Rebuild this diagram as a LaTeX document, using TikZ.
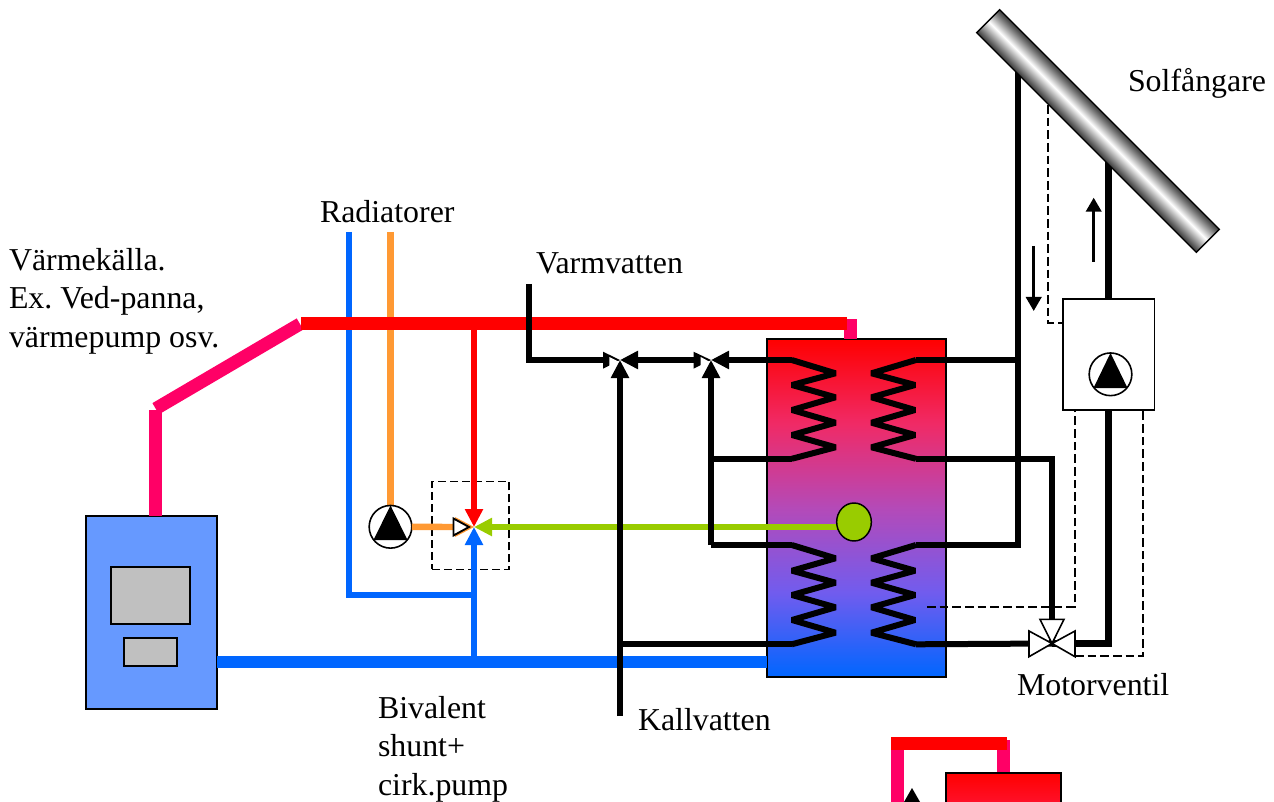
\documentclass[tikz,border=0pt]{standalone}
\usepackage{fontspec}
\setmainfont{Liberation Serif}
\usetikzlibrary{arrows.meta,shapes.geometric}
\definecolor{hotred}{HTML}{FF0000}
\definecolor{hotpink}{HTML}{FF0066}
\definecolor{coldblue}{HTML}{0066FF}
\definecolor{warmorange}{HTML}{FF9933}
\definecolor{mixgreen}{HTML}{99CC00}
\definecolor{boilerblue}{HTML}{6699FF}
\definecolor{panelgrey}{HTML}{C0C0C0}
\definecolor{tankA}{HTML}{F02A66}
\definecolor{tankB}{HTML}{B44AB8}
\definecolor{tankC}{HTML}{715CEE}
\definecolor{tankTop}{HTML}{FF1028}
\pgfdeclareverticalshading{tankshade}{100bp}{
  color(0bp)=(coldblue); color(25bp)=(coldblue);
  color(37.5bp)=(tankC);
  color(50bp)=(tankB);
  color(62.5bp)=(tankA);
  color(75bp)=(hotred); color(100bp)=(hotred)}
\pgfdeclareverticalshading{smalltankshade}{100bp}{
  color(0bp)=(tankTop); color(25bp)=(tankTop);
  color(75bp)=(hotred); color(100bp)=(hotred)}
\tikzset{
  pipethick/.style={line width=9.75pt},
  pipeblack/.style={black,line width=4.5pt,line join=miter},
  coil/.style={black,line width=4.5pt,line join=bevel},
  pipeheavy/.style={black,line width=5.25pt,line join=miter},
  pipethin/.style={line width=4.5pt},
  headtip/.style={-{Triangle[length=13.5pt,width=13pt]}},
  smalltip/.style={-{Triangle[length=10.5pt,width=11.5pt]}},
  thindash/.style={black,line width=1.25pt,dash pattern=on 6.5pt off 3pt},
  box/.style={draw=black,line width=1.1pt,inner sep=0pt,outer sep=0pt},
  pump/.style={circle,draw=black,fill=white,line width=1.2pt,minimum size=32pt,inner sep=0pt,outer sep=0pt},
  lbl/.style={font=\fontsize{23.9}{28.9}\selectfont\frenchspacing,inner sep=0pt,outer sep=0pt,align=left},
  openhead/.style={fill=white,draw=black,line width=1.4pt,line join=miter},
  valvehead/.style={fill=white,draw=black,line width=1.2pt,line join=miter},
}
\begin{document}
\begin{tikzpicture}[x=0.75pt,y=-0.75pt]
\useasboundingbox (0,0) rectangle (1274,802);
% --- anchors
\coordinate (mixv) at (474,527);
\coordinate (v1) at (620,360);
\coordinate (v2) at (711,360);
\coordinate (mv) at (1052,643.5);
\coordinate (redL) at (301,323);
\coordinate (redR) at (847,323);
\coordinate (redT) at (474,323);
\coordinate (bluejoin) at (474,662);
\coordinate (blueret) at (474,595);
\coordinate (rad1) at (349,232);
\coordinate (rad1b) at (349,595);
\coordinate (rad2) at (390.5,232);
\coordinate (rad2b) at (390.5,505);
\coordinate (vv) at (529,284);
\coordinate (vvb) at (529,360);
\coordinate (kv) at (620,716);
\coordinate (kvj) at (620,644.3);
\coordinate (j1) at (711,458.8);
\coordinate (j2) at (711,545);
\coordinate (lt1) at (791.7,360);
\coordinate (lt2) at (791.7,458.8);
\coordinate (lb1) at (791.7,545);
\coordinate (lb2) at (791.7,644.3);
\coordinate (rt1) at (916,360);
\coordinate (rt2) at (916,458.8);
\coordinate (rb1) at (916,545);
\coordinate (rb2) at (916,644.3);
\coordinate (c1t) at (1018,70);
\coordinate (c1m) at (1018,360);
\coordinate (c1b) at (1018,545);
\coordinate (mvp) at (1052,458.8);
\coordinate (mvR) at (1108.3,643.5);
\coordinate (c2t) at (1108.3,160);
\coordinate (stubT) at (850.5,319);
\coordinate (stubB) at (850.5,339);
\coordinate (boilT) at (155,516);
\coordinate (kinkA) at (155,410);
\coordinate (kinkB) at (155.7,408.7);
\coordinate (diagE) at (300,324);
\coordinate (blueL) at (217,662);
\coordinate (blueR) at (767,662);
% --- tank, boiler
\node[box,name=tank,minimum width=134.25pt,minimum height=253.5pt,shading=tankshade] at (856.5,508) {};
\draw[pipethick,hotpink] (stubT) -- (stubB);
\node[box,name=boiler,minimum width=98.25pt,minimum height=144.75pt,fill=boilerblue] at (151.5,612.5) {};
\node[box,name=panelA,minimum width=59.25pt,minimum height=42.75pt,fill=panelgrey] at (150.5,595.5) {};
\node[box,name=panelB,minimum width=39.75pt,minimum height=21pt,fill=panelgrey] at (150.5,652) {};
% --- heating pipes
\draw[pipethick,hotpink] (boilT) -- (kinkA);
\draw[pipethick,hotpink] (kinkB) -- (diagE);
\draw[coldblue,line width=4.8pt,line join=miter] (rad1) -- (rad1b) -- (blueret);
\draw[warmorange,line width=5.2pt] (rad2) -- (rad2b);
\draw[pipethick,hotred] (redL) -- (redR);
\draw[coldblue,line width=8.5pt] (blueL) -- (blueR);
% --- shunt
\node[box,name=shunt,dash pattern=on 6pt off 3pt,minimum width=57.75pt,minimum height=65.7pt] at (470.5,525.5) {};
\node[pump,name=pumpA] at (390.5,526.8) {};
\fill[black] (pumpA.north) -- (373.5,540) -- (407.5,540) -- cycle;
\coordinate (oa) at (453,527);
\draw[warmorange,line width=4.8pt] (pumpA.east) -- (oa);
\fill[warmorange] (455,517) -- (mixv) -- (455,537) -- cycle;
\draw[hotred,pipethin,headtip] (redT) -- (mixv);
\draw[coldblue,pipethin,headtip] (bluejoin) -- (mixv);
\coordinate (gs) at (854,527);
\draw[mixgreen,line width=4.8pt,headtip] (gs) -- (mixv);
\node[name=sensor,draw=black,line width=1.1pt,fill=mixgreen,ellipse,minimum width=26pt,minimum height=28.5pt,inner sep=0pt,outer sep=0pt] at (854,522) {};
\draw[openhead] (453.5,518.5) -- (469,527) -- (453.5,535.5) -- cycle;
% --- hot/cold water
\coordinate (v1L) at (603,360);
\coordinate (v2L) at (693.5,360);
\draw[pipeblack] (vv) -- (vvb) -- (v1L);
\draw[pipeblack,headtip] (v2L) -- (v1);
\draw[pipeblack,headtip] (kv) -- (v1);
\draw[pipeblack,headtip] (lt1) -- (v2);
\draw[pipeblack,headtip] (j2) -- (v2);
\fill[black] (603,351.7) -- (v1) -- (603,368.7) -- cycle;
\fill[black] (693.5,351.7) -- (v2) -- (693.5,368.7) -- cycle;
\fill[white] (609.3,357) -- (618.5,361.5) -- (609.3,367) -- cycle;
\fill[white] (700.7,357) -- (709,361.5) -- (700.7,367) -- cycle;
\draw[pipeblack] (j1) -- (lt2);
\draw[pipeblack] (j2) -- (lb1);
\draw[pipeblack] (kvj) -- (lb2);
% --- coils
\draw[coil] (lt1) -- (835.5,373.3) -- (792,385) -- (835.5,397.3) -- (792,410) -- (835.5,422.7) -- (792,435) -- (835.5,447.3) -- (lt2);
\draw[coil] (rt1) -- (871.5,373.3) -- (915,385) -- (871.5,397.3) -- (915,410) -- (871.5,422.7) -- (915,435) -- (871.5,447.3) -- (rt2);
\draw[coil] (lb1) -- (835.5,558.3) -- (792,570.7) -- (835.5,582.7) -- (792,595) -- (835.5,607.3) -- (792,620) -- (835.5,632.7) -- (lb2);
\draw[coil] (rb1) -- (871.5,558.3) -- (915,570.7) -- (871.5,582.7) -- (915,595) -- (871.5,607.3) -- (915,620) -- (871.5,632.7) -- (rb2);
% --- solar circuit
\draw[pipeblack] (c1t) -- (c1b) -- (rb1);
\draw[pipeblack] (rt1) -- (c1m);
\draw[pipeblack] (rt2) -- (mvp) -- (mv);
\draw[pipeblack] (rb2) -- (mv);
\draw[pipeheavy] (mv) -- (mvR) -- (c2t);
\node[box,name=solbox,fill=white,minimum width=68.75pt,minimum height=83.25pt] at (1108.8,354.5) {};
\node[pump,name=pumpB] at (1110.5,374.3) {};
\fill[black] (pumpB.north) -- (1093.5,388) -- (1127.5,388) -- cycle;
% --- motor valve
\draw[valvehead] (1040,619.3) -- (1064,619.3) -- (mv) -- cycle;
\draw[valvehead] (1029,631) -- (1029,656.7) -- (mv) -- cycle;
\draw[valvehead] (1075,631) -- (1075,656.7) -- (mv) -- cycle;
\draw[thindash] (1075,656) -- (1143,656) -- (1143,410);
\draw[thindash] (927,606.7) -- (1074.7,606.7) -- (1074.7,410);
\draw[thindash] (1048.3,105) -- (1048.3,323.3) -- (1063,323.3);
\draw[black,line width=2.2pt,smalltip] (1093.7,262) -- (1093.7,197.7);
\draw[black,line width=2.2pt,smalltip] (1033.7,246) -- (1033.7,311);
% --- collector on top
\begin{scope}[transform canvas={rotate around={-45:(1098,131)}}]
\node[draw=black,line width=1pt,inner sep=0pt,outer sep=0pt,name=coll,minimum width=233pt,minimum height=24.4pt,top color=black!78,bottom color=black!78,middle color=white] at (1098,131) {};
\end{scope}
% --- second small tank at the bottom edge
\coordinate (st) at (897.5,802);
\coordinate (sa) at (897.5,737);
\coordinate (sb) at (1003.5,740);
\coordinate (sc) at (1003.5,773);
\coordinate (sd) at (891,743);
\coordinate (se) at (1007,743);
\draw[pipethick,hotpink] (st) -- (sa);
\draw[pipethick,hotpink] (sb) -- (sc);
\draw[pipethick,hotred] (sd) -- (se);
\fill[black] (912,788) -- (904,802) -- (920,802) -- cycle;
\shade[shading=smalltankshade] (946,773) rectangle (1061,802);
\draw[black,line width=1.1pt] (946,802) -- (946,773) -- (1061,773) -- (1061,802);
% --- labels
\node[lbl,anchor=base west,name=tSol] at (1128,92) {Solfångare};
\node[lbl,anchor=base west,name=tRad] at (320,223) {Radiatorer};
\node[lbl,anchor=base west,name=tVarm] at (536,273) {Varmvatten};
\node[lbl,anchor=base west,name=tKall] at (638,730) {Kallvatten};
\node[lbl,anchor=base west,name=tMot] at (1017,695) {Motorventil};
\node[lbl,anchor=north west,name=tKalla] at (9,248) {Värmekälla.\\Ex. Ved-panna,\\värmepump osv.};
\node[lbl,anchor=north west,name=tBiv] at (378,696) {Bivalent\\shunt+\\cirk.pump};
\end{tikzpicture}
\end{document}
